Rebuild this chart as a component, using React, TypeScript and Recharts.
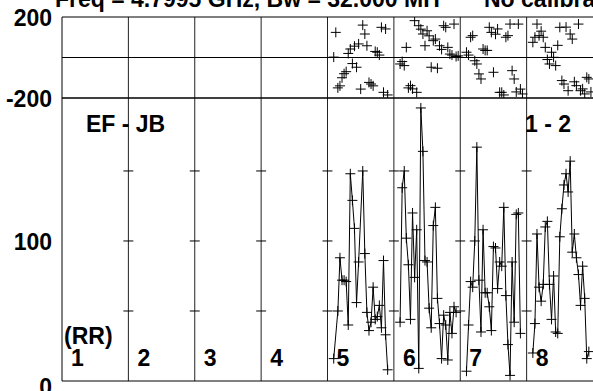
import React from 'react';
import { ComposedChart, Line, Scatter, XAxis, YAxis, ReferenceLine } from 'recharts';

const N = null;

// one panel per IF, 32 channels each; IFs 1-4 are flagged (no data)
const IF_NAMES = ['1', '2', '3', '4', '5', '6', '7', '8'];
const CHANNELS = 32;
const CHANNEL_TICKS = [10, 20, 30];
const PHASE_TICKS = [-200, 200];
const AMP_TICKS = [0, 100];
const AMP_MINOR = [50, 100, 150];

// amplitude per channel (ch 1..32)
const amp5 = [N, N, 16, N, 50, 88, 72, 72, 71, 40, 148, 129, 109, 56, 85, N, 150, 91, 49, 36, 42, 67, 44, 46, 54, 38, 86, 33, 8, N, N, N];
const amp6 = [N, N, 42, 138, 150, 102, 83, 44, 120, 74, 108, 9, 195, 164, 86, 85, 52, 38, 111, 124, 59, 41, 16, 47, 40, 15, 49, 34, 53, 49, N, N];
const amp7 = [N, N, 7, 40, 71, 67, 100, 167, 72, 35, 108, 63, 63, 53, 36, 96, 95, 66, 85, 82, 124, 61, 26, 4, 85, 42, 119, 120, 34, N, N, N];
const amp8 = [N, N, 20, 41, 105, 67, 57, 69, 110, 114, 69, 44, 75, 35, 34, 103, 123, 140, 148, 135, 157, 92, 105, 88, 76, 54, 82, 59, 16, 21, N, N];

// phase per channel (degrees)
const phase5 = [N, N, 2, 124, -150, -140, -100, -80, -70, 20, 42, -30, 56, -48, 67, -156, 160, 116, 58, -123, -131, -140, 30, 26, 12, 149, -172, 141, -185, N, N, N];
const phase6 = [N, N, -32, -20, -40, 50, -150, -139, -155, 182, -172, 157, 140, 116, 58, 132, 107, -48, 83, 91, -53, 58, 40, 157, 149, 50, 17, 12, 165, 5, 8, N];
const phase7 = [N, N, 26, 12, 100, 108, -16, -32, -81, -106, 42, 35, 35, 149, 124, -73, 115, 141, -172, -172, -185, 100, 108, 165, -65, -106, -170, 165, -156, -180, N, N];
const phase8 = [N, N, 75, 100, 165, 108, 130, 100, 50, -10, -32, 26, 1, -40, 60, 149, -114, -131, 150, -164, 116, 91, -120, -139, 165, -164, -155, -180, -98, -106, -170, N];

const ampByIF: (number | null)[][] = [[], [], [], [], amp5, amp6, amp7, amp8];
const phaseByIF: (number | null)[][] = [[], [], [], [], phase5, phase6, phase7, phase8];

const FONT = '"Liberation Sans", Arial, Helvetica, sans-serif';
const W = 593;
const LEFT = 62;
const X_MAX = IF_NAMES.length * CHANNELS;

const toPoints = (vals: (number | null)[], k: number) =>
  vals.flatMap((v, i) => (v == null ? [] : [{ x: k * CHANNELS + i + 1, v }]));

const xTicks = IF_NAMES.flatMap((_, k) => CHANNEL_TICKS.map((c) => k * CHANNELS + c));
const bounds = IF_NAMES.slice(1).map((_, k) => (k + 1) * CHANNELS);

const Cross = (props: any) => {
  const { cx, cy } = props;
  if (cx == null || cy == null) return <g />;
  return (
    <path
      d={`M${cx - 5},${cy}H${cx + 5}M${cx},${cy - 5}V${cy + 5}`}
      stroke="#000"
      strokeWidth={1}
      fill="none"
    />
  );
};

const AxisTick = (props: any) => {
  const { x, y, payload } = props;
  const shift = payload.value === 0 ? 6 : 1;
  return (
    <text x={x} y={y + shift} dy="0.355em" textAnchor="end" fontFamily={FONT} fontWeight="bold" fontSize={23} fill="#000">
      {payload.value}
    </text>
  );
};

const edgeAxes = (id: string) => [
  <XAxis key={`${id}b`} xAxisId={id} type="number" dataKey="x" domain={[0, X_MAX]} orientation="bottom" mirror ticks={xTicks} tick={false} tickSize={4} stroke="#000" allowDataOverflow />,
  <XAxis key={`${id}t`} xAxisId={`${id}top`} type="number" dataKey="x" domain={[0, X_MAX]} orientation="top" mirror ticks={xTicks} tick={false} tickSize={4} stroke="#000" allowDataOverflow />,
];

export default function App() {
  return (
    <div style={{ position: 'absolute', left: 0, top: 0, width: W, height: 391, background: '#fff', overflow: 'hidden' }}>
      <div style={{ position: 'absolute', left: 0, top: 0 }}>
        <ComposedChart width={W} height={110} margin={{ top: 17, right: 0, bottom: 12, left: 0 }}>
          {edgeAxes('p')}
          <YAxis yAxisId="p" type="number" dataKey="v" domain={[-200, 200]} ticks={PHASE_TICKS} width={LEFT} tickSize={0} tickMargin={10} tick={<AxisTick />} stroke="#000" allowDataOverflow />
          {bounds.map((b) => (
            <ReferenceLine key={b} xAxisId="p" yAxisId="p" x={b} stroke="#222" />
          ))}
          <ReferenceLine xAxisId="p" yAxisId="p" y={0} stroke="#000" />
          {phaseByIF.map((vals, k) =>
            vals.length ? (
              <Scatter key={k} xAxisId="p" yAxisId="p" data={toPoints(vals, k)} dataKey="v" shape={<Cross />} isAnimationActive={false} />
            ) : null
          )}
        </ComposedChart>
      </div>
      <div style={{ position: 'absolute', left: 0, top: 86 }}>
        <ComposedChart width={W} height={305} margin={{ top: 12, right: 0, bottom: 10, left: 0 }}>
          {edgeAxes('a')}
          <YAxis yAxisId="a" type="number" dataKey="v" domain={[0, 202.1]} ticks={AMP_TICKS} width={LEFT} tickSize={0} tickMargin={10} tick={<AxisTick />} stroke="#000" allowDataOverflow />
          <YAxis yAxisId="m" type="number" domain={[0, 202.1]} ticks={AMP_MINOR} mirror width={0} tick={false} tickSize={5} axisLine={false} stroke="#000" allowDataOverflow />
          {bounds.map((b) => (
            <ReferenceLine key={b} xAxisId="a" yAxisId="a" x={b} stroke="#222" />
          ))}
          {bounds.flatMap((b) =>
            AMP_MINOR.map((v) => (
              <ReferenceLine key={`${b}-${v}`} xAxisId="a" yAxisId="a" segment={[{ x: b - 2.4, y: v }, { x: b + 2.4, y: v }]} stroke="#000" />
            ))
          )}
          {ampByIF.map((vals, k) =>
            vals.length ? (
              <Line
                key={k}
                xAxisId="a"
                yAxisId="a"
                data={toPoints(vals, k)}
                dataKey="v"
                type="linear"
                stroke="#000"
                strokeWidth={1}
                dot={(p: any) => <Cross key={`d${k}-${p.index}`} {...p} />}
                activeDot={false}
                isAnimationActive={false}
              />
            ) : null
          )}
        </ComposedChart>
      </div>
      <svg width={W} height={391} style={{ position: 'absolute', left: 0, top: 0, pointerEvents: 'none' }} fontFamily={FONT} fontWeight="bold" fontSize={23}>
        <text x={55} y={7}>Freq = 4.7995 GHz, Bw = 32.000 MH</text>
        <text x={484} y={7}>No calibration</text>
        <text x={86} y={132}>EF - JB</text>
        <text x={525} y={132}>1 - 2</text>
        <text x={64} y={344}>(RR)</text>
        {IF_NAMES.map((name, k) => (
          <text key={name} x={LEFT + (k * (W - LEFT)) / IF_NAMES.length + 9} y={366}>
            {name}
          </text>
        ))}
      </svg>
    </div>
  );
}
